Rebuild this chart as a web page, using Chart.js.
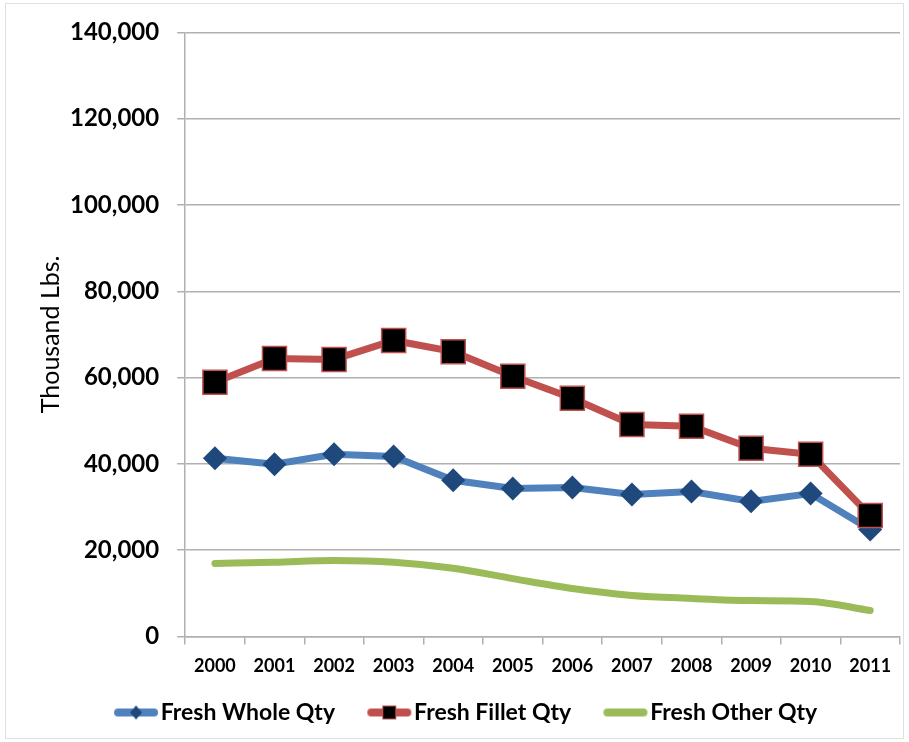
<!DOCTYPE html>
<html>
<head>
<meta charset="utf-8">
<script src="https://cdn.jsdelivr.net/npm/chart.js@4"></script>
<style>
  html, body { margin: 0; padding: 0; background: #fff; }
  #wrap { position: relative; width: 909px; height: 742px; }
</style>
</head>
<body>
<div id="wrap"><canvas id="c" width="909" height="742"></canvas></div>
<script>
const years = ["2000","2001","2002","2003","2004","2005","2006","2007","2008","2009","2010","2011"];
const freshWhole = [41300, 39900, 42200, 41700, 36200, 34300, 34500, 32900, 33600, 31300, 33100, 24800];
const freshFillet = [58900, 64400, 64200, 68600, 66000, 60300, 55200, 49100, 48700, 43600, 42200, 28000];
const freshOther = [16900, 17200, 17600, 17200, 15800, 13400, 11100, 9500, 8800, 8300, 8100, 6000];
const seriesNames = ["Fresh Whole Qty", "Fresh Fillet Qty", "Fresh Other Qty"];
const yTicks = [0, 20000, 40000, 60000, 80000, 100000, 120000, 140000];

const BLUE = '#4F81BD', BLUE_D = '#1F497D', RED = '#C0504D', GREEN = '#9BBB59';
const GRID = '#b0b0b0';
const FONT = 'Lato, "Liberation Sans", sans-serif';

function legendIcon(lineColor, marker) {
  const cv = document.createElement('canvas');
  cv.width = 77; cv.height = 20;
  const g = cv.getContext('2d');
  const x0 = 32, x1 = 76, cx = (x0 + x1) / 2, cy = 10;
  g.strokeStyle = lineColor; g.lineWidth = 8; g.lineCap = 'round';
  g.beginPath(); g.moveTo(x0 + 4, cy); g.lineTo(x1 - 4, cy); g.stroke();
  if (marker === 'diamond') {
    g.fillStyle = BLUE_D;
    g.beginPath(); g.moveTo(cx, cy - 7); g.lineTo(cx + 6, cy); g.lineTo(cx, cy + 7); g.lineTo(cx - 6, cy); g.closePath(); g.fill();
  } else if (marker === 'square') {
    g.fillStyle = '#000'; g.fillRect(cx - 7, cy - 7, 14, 14);
    g.strokeStyle = RED; g.lineWidth = 1; g.strokeRect(cx - 6.5, cy - 6.5, 13, 13);
  }
  return cv;
}
const icons = [legendIcon(BLUE, 'diamond'), legendIcon(RED, 'square'), legendIcon(GREEN, null)];

const frame = {
  id: 'frame',
  beforeDraw(chart) {
    const c = chart.ctx;
    c.save();
    c.fillStyle = '#fff'; c.fillRect(0, 0, chart.width, chart.height);
    c.strokeStyle = '#e0e0e0'; c.lineWidth = 1;
    c.strokeRect(5.5, 3.5, chart.width - 11, chart.height - 7);
    c.restore();
  }
};

new Chart(document.getElementById('c'), {
  type: 'line',
  data: {
    labels: years,
    datasets: [
      { label: seriesNames[0], data: freshWhole, borderColor: BLUE, backgroundColor: BLUE_D,
        borderWidth: 7, tension: 0, pointStyle: 'rectRot', pointRadius: 12,
        pointBackgroundColor: BLUE_D, pointBorderColor: BLUE_D, pointBorderWidth: 0, order: 2 },
      { label: seriesNames[1], data: freshFillet, borderColor: RED, backgroundColor: '#000',
        borderWidth: 7, tension: 0, pointStyle: 'rect', pointRadius: 17,
        pointBackgroundColor: '#000', pointBorderColor: RED, pointBorderWidth: 1.5, order: 1 },
      { label: seriesNames[2], data: freshOther, borderColor: GREEN, backgroundColor: GREEN,
        borderWidth: 7, cubicInterpolationMode: 'monotone', pointRadius: 0, order: 3,
        borderCapStyle: 'round' }
    ]
  },
  options: {
    responsive: false,
    animation: false,
    events: [],
    layout: { autoPadding: false, padding: { left: 9, right: 9, top: 20, bottom: 8 } },
    plugins: {
      tooltip: { enabled: false },
      legend: {
        position: 'bottom',
        labels: {
          usePointStyle: true,
          pointStyleWidth: 57.5,
          padding: 10,
          color: '#000',
          font: { family: FONT, size: 23, weight: 'bold' },
          generateLabels(chart) {
            return chart.data.datasets.map((ds, i) => ({
              text: ds.label, pointStyle: icons[i], datasetIndex: i,
              fillStyle: ds.borderColor, strokeStyle: ds.borderColor, lineWidth: 0, hidden: false,
              fontColor: '#000'
            }));
          }
        }
      }
    },
    scales: {
      x: {
        offset: true,
        afterFit(scale) { scale.paddingLeft = 0; scale.paddingRight = 0; },
        grid: { display: true, drawOnChartArea: false, drawTicks: true, tickLength: 8, color: GRID, lineWidth: 1.5, offset: true },
        border: { display: true, color: GRID, width: 1.5 },
        ticks: { color: '#000', padding: 11, maxRotation: 0, autoSkip: false, font: { family: FONT, size: 18, weight: 'bold' } },
        title: { display: true, text: ' ', padding: 0, font: { size: 2.5 } }
      },
      y: {
        min: 0, max: 140000,
        afterBuildTicks(scale) { scale.ticks = yTicks.map(v => ({ value: v })); },
        grid: { color: GRID, lineWidth: 1.5, tickLength: 8, drawTicks: true },
        border: { display: true, color: GRID, width: 1.5 },
        ticks: { color: '#000', padding: 18, font: { family: FONT, size: 24, weight: 'bold' },
          callback: v => v.toLocaleString('en-US') },
        title: { display: true, text: 'Thousand Lbs.', color: '#000', padding: { top: 27, bottom: -14 },
          font: { family: FONT, size: 25, weight: 'normal' } }
      }
    }
  },
  plugins: [frame]
});
</script>
</body>
</html>
